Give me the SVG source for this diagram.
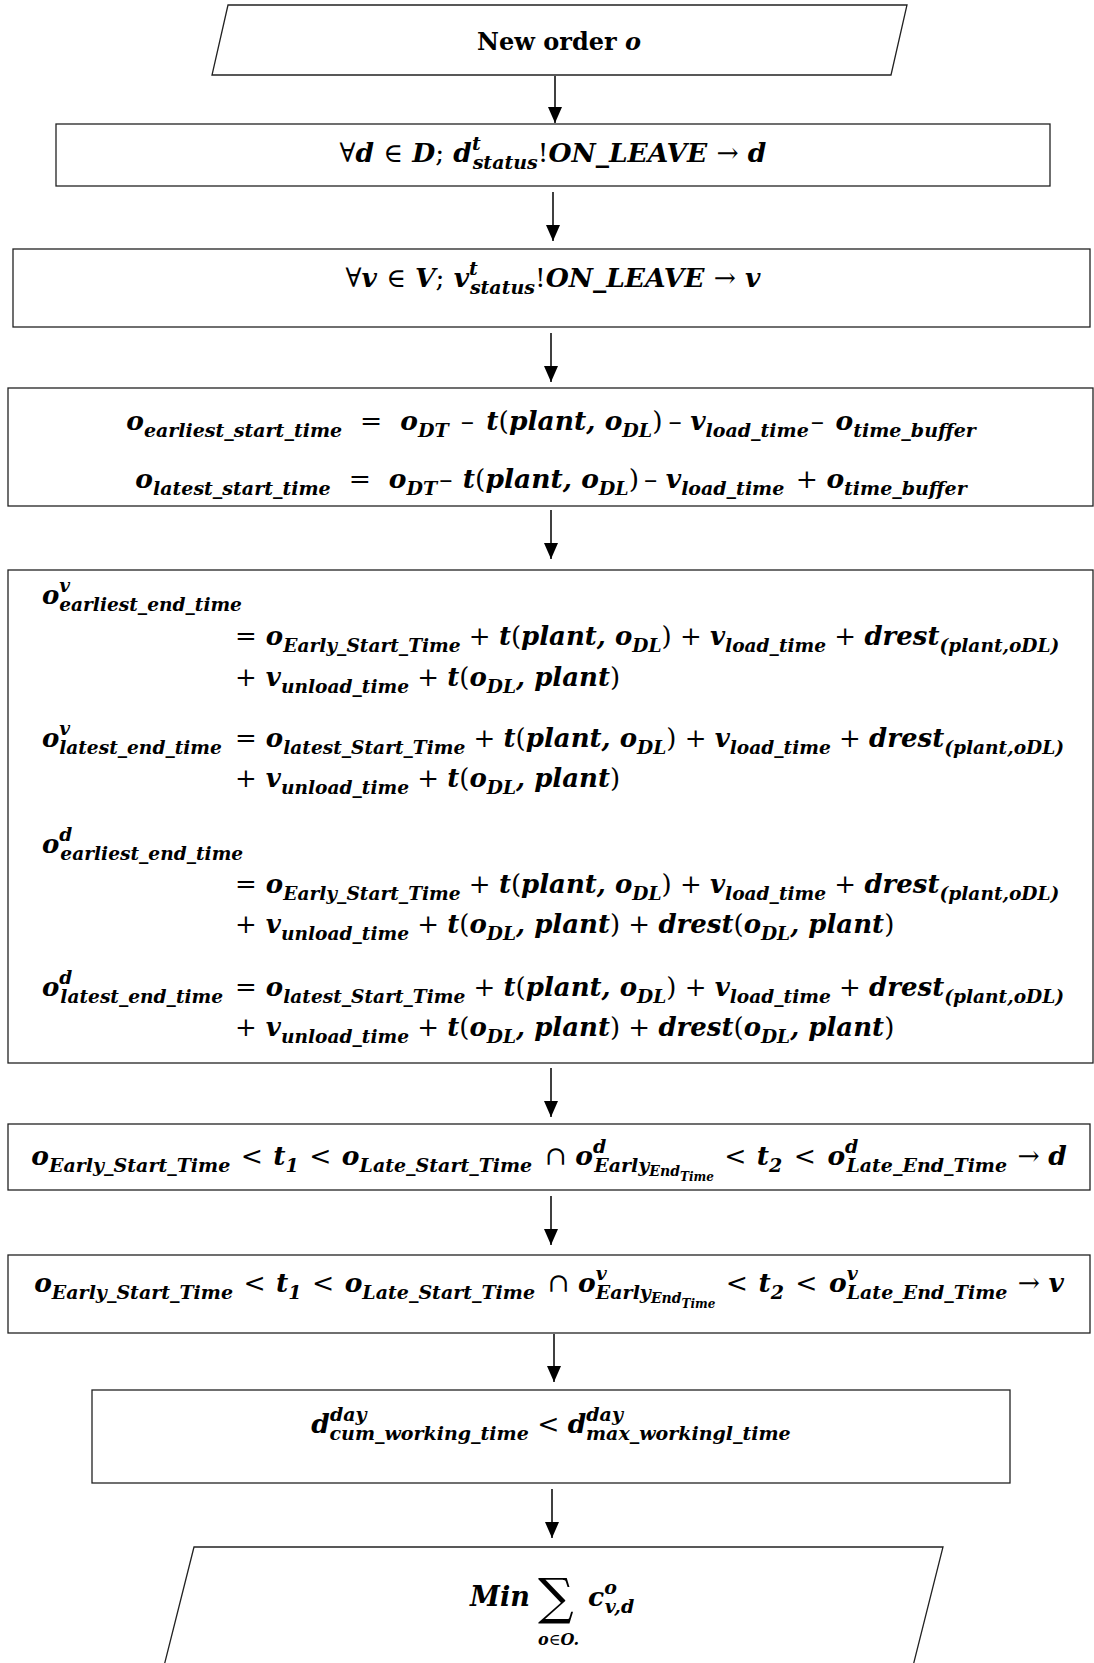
<svg xmlns="http://www.w3.org/2000/svg" width="1094" height="1663" viewBox="0 0 1094 1663">
<defs>
<style>
.box{fill:#fff;stroke:#222;stroke-width:1.3}
.edge{stroke:#000;stroke-width:1.5;fill:none}
.m{font-family:"DejaVu Serif","Liberation Serif",serif;font-weight:bold;font-style:italic;font-size:26.5px;fill:#000}
.t{font-family:"DejaVu Serif","Liberation Serif",serif;font-weight:bold;font-size:24px;fill:#000}
.u{font-style:normal;font-weight:normal}
.s{font-size:19px}
.ss{font-size:14px}
.sss{font-size:12px}
#n5 .m{font-size:26px}
#n5 .s{font-size:18.6px}
.big{font-size:50px}
.min{font-size:27px}
.lim{font-size:16px}
</style>
<marker id="ah" viewBox="0 0 16 14" refX="16" refY="7" markerWidth="16" markerHeight="14" markerUnits="userSpaceOnUse" orient="auto">
<path d="M0,0 L16,7 L0,14 z" fill="#000"/>
</marker>
</defs>
<rect width="1094" height="1663" fill="#fff"/>

<g id="n1">
<polygon class="box" points="228,5 907,5 891,75 212,75"/>
<text class="t" x="559" y="50" text-anchor="middle">New order <tspan font-style="italic">o</tspan></text>
</g>

<g id="n2">
<rect class="box" x="56" y="124" width="994" height="62"/>
<text class="m" x="553" y="162" text-anchor="middle"><tspan class="u">∀</tspan>d <tspan class="u">∈</tspan> D<tspan class="u">;</tspan> d<tspan class="s" dy="-12">t</tspan><tspan class="s" dx="-8" dy="19">status</tspan><tspan class="u" dy="-7">!</tspan>ON_LEAVE <tspan class="u">→</tspan> d</text>
</g>

<g id="n3">
<rect class="box" x="13" y="249" width="1077" height="78"/>
<text class="m" x="553" y="287" text-anchor="middle"><tspan class="u">∀</tspan>v <tspan class="u">∈</tspan> V<tspan class="u">;</tspan> v<tspan class="s" dy="-12">t</tspan><tspan class="s" dx="-8" dy="19">status</tspan><tspan class="u" dy="-7">!</tspan>ON_LEAVE <tspan class="u">→</tspan> v</text>
</g>

<g id="n4">
<rect class="box" x="8" y="388" width="1085" height="118"/>
<text class="m" x="551" y="430" text-anchor="middle">o<tspan class="s" dy="7">earliest_start_time</tspan><tspan class="u" dx="18" dy="-7">=</tspan><tspan dx="18">o</tspan><tspan class="s" dy="7">DT</tspan><tspan class="u" dy="-7" dx="12">– </tspan><tspan dx="4">t</tspan><tspan class="u">(</tspan>plant, o<tspan class="s" dy="7">DL</tspan><tspan class="u" dy="-7">)</tspan><tspan class="u" dx="6">– </tspan>v<tspan class="s" dy="7">load_time</tspan><tspan class="u" dy="-7" dx="2">– </tspan><tspan dx="3">o</tspan><tspan class="s" dy="7">time_buffer</tspan></text>
<text class="m" x="551" y="488" text-anchor="middle">o<tspan class="s" dy="7">latest_start_time</tspan><tspan class="u" dx="18" dy="-7">=</tspan><tspan dx="18">o</tspan><tspan class="s" dy="7">DT</tspan><tspan class="u" dy="-7" dx="2">– </tspan><tspan dx="2">t</tspan><tspan class="u">(</tspan>plant, o<tspan class="s" dy="7">DL</tspan><tspan class="u" dy="-7">)</tspan><tspan class="u" dx="5">– </tspan>v<tspan class="s" dy="7">load_time</tspan><tspan class="u" dy="-7" dx="3"> + </tspan>o<tspan class="s" dy="7">time_buffer</tspan></text>
</g>

<g id="n5">
<rect class="box" x="8" y="570" width="1085" height="493"/>
<text class="m" x="42" y="604">o<tspan class="s" dy="-12">v</tspan><tspan class="s" dx="-11" dy="19">earliest_end_time</tspan></text>
<text class="m" x="235" y="645"><tspan class="u">=</tspan> o<tspan class="s" dy="7">Early_Start_Time</tspan><tspan class="u" dy="-7"> + </tspan>t<tspan class="u">(</tspan>plant, o<tspan class="s" dy="7">DL</tspan><tspan class="u" dy="-7">) + </tspan>v<tspan class="s" dy="7">load_time</tspan><tspan class="u" dy="-7"> + </tspan>drest<tspan class="s" dy="7">(plant,oDL)</tspan></text>
<text class="m" x="235" y="686"><tspan class="u">+</tspan> v<tspan class="s" dy="7">unload_time</tspan><tspan class="u" dy="-7"> + </tspan>t<tspan class="u">(</tspan>o<tspan class="s" dy="7">DL</tspan><tspan dy="-7">, plant</tspan><tspan class="u">)</tspan></text>
<text class="m" x="42" y="747">o<tspan class="s" dy="-12">v</tspan><tspan class="s" dx="-11" dy="19">latest_end_time</tspan></text>
<text class="m" x="235" y="747"><tspan class="u">=</tspan> o<tspan class="s" dy="7">latest_Start_Time</tspan><tspan class="u" dy="-7"> + </tspan>t<tspan class="u">(</tspan>plant, o<tspan class="s" dy="7">DL</tspan><tspan class="u" dy="-7">) + </tspan>v<tspan class="s" dy="7">load_time</tspan><tspan class="u" dy="-7"> + </tspan>drest<tspan class="s" dy="7">(plant,oDL)</tspan></text>
<text class="m" x="235" y="787"><tspan class="u">+</tspan> v<tspan class="s" dy="7">unload_time</tspan><tspan class="u" dy="-7"> + </tspan>t<tspan class="u">(</tspan>o<tspan class="s" dy="7">DL</tspan><tspan dy="-7">, plant</tspan><tspan class="u">)</tspan></text>
<text class="m" x="42" y="853">o<tspan class="s" dy="-12">d</tspan><tspan class="s" dx="-12" dy="19">earliest_end_time</tspan></text>
<text class="m" x="235" y="893"><tspan class="u">=</tspan> o<tspan class="s" dy="7">Early_Start_Time</tspan><tspan class="u" dy="-7"> + </tspan>t<tspan class="u">(</tspan>plant, o<tspan class="s" dy="7">DL</tspan><tspan class="u" dy="-7">) + </tspan>v<tspan class="s" dy="7">load_time</tspan><tspan class="u" dy="-7"> + </tspan>drest<tspan class="s" dy="7">(plant,oDL)</tspan></text>
<text class="m" x="235" y="933"><tspan class="u">+</tspan> v<tspan class="s" dy="7">unload_time</tspan><tspan class="u" dy="-7"> + </tspan>t<tspan class="u">(</tspan>o<tspan class="s" dy="7">DL</tspan><tspan dy="-7">, plant</tspan><tspan class="u">) + </tspan>drest<tspan class="u">(</tspan>o<tspan class="s" dy="7">DL</tspan><tspan dy="-7">, plant</tspan><tspan class="u">)</tspan></text>
<text class="m" x="42" y="996">o<tspan class="s" dy="-12">d</tspan><tspan class="s" dx="-12" dy="19">latest_end_time</tspan></text>
<text class="m" x="235" y="996"><tspan class="u">=</tspan> o<tspan class="s" dy="7">latest_Start_Time</tspan><tspan class="u" dy="-7"> + </tspan>t<tspan class="u">(</tspan>plant, o<tspan class="s" dy="7">DL</tspan><tspan class="u" dy="-7">) + </tspan>v<tspan class="s" dy="7">load_time</tspan><tspan class="u" dy="-7"> + </tspan>drest<tspan class="s" dy="7">(plant,oDL)</tspan></text>
<text class="m" x="235" y="1036"><tspan class="u">+</tspan> v<tspan class="s" dy="7">unload_time</tspan><tspan class="u" dy="-7"> + </tspan>t<tspan class="u">(</tspan>o<tspan class="s" dy="7">DL</tspan><tspan dy="-7">, plant</tspan><tspan class="u">) + </tspan>drest<tspan class="u">(</tspan>o<tspan class="s" dy="7">DL</tspan><tspan dy="-7">, plant</tspan><tspan class="u">)</tspan></text>
</g>

<g id="n6">
<rect class="box" x="8" y="1124" width="1082" height="66"/>
<text class="m" x="549" y="1165" text-anchor="middle">o<tspan class="s" dy="7">Early_Start_Time</tspan><tspan class="u" dy="-7" dx="2"> &lt; </tspan><tspan dx="2">t</tspan><tspan class="s" dy="7">1</tspan><tspan class="u" dy="-7" dx="2"> &lt; </tspan><tspan dx="2">o</tspan><tspan class="s" dy="7">Late_Start_Time</tspan><tspan class="u" dy="-7" dx="4"> ∩ </tspan>o<tspan class="s" dy="-12">d</tspan><tspan class="s" dx="-12" dy="19">Early</tspan><tspan class="ss" dy="4">End</tspan><tspan class="sss" dy="5">Time</tspan><tspan class="u" dy="-16" dx="2"> &lt; </tspan><tspan dx="2">t</tspan><tspan class="s" dy="7">2</tspan><tspan class="u" dy="-7" dx="3"> &lt; </tspan><tspan dx="3">o</tspan><tspan class="s" dy="-12">d</tspan><tspan class="s" dx="-12" dy="19">Late_End_Time</tspan><tspan class="u" dy="-7" dx="2"> → </tspan>d</text>
</g>

<g id="n7">
<rect class="box" x="8" y="1255" width="1082" height="78"/>
<text class="m" x="549" y="1292" text-anchor="middle">o<tspan class="s" dy="7">Early_Start_Time</tspan><tspan class="u" dy="-7" dx="2"> &lt; </tspan><tspan dx="2">t</tspan><tspan class="s" dy="7">1</tspan><tspan class="u" dy="-7" dx="2"> &lt; </tspan><tspan dx="2">o</tspan><tspan class="s" dy="7">Late_Start_Time</tspan><tspan class="u" dy="-7" dx="4"> ∩ </tspan>o<tspan class="s" dy="-12">v</tspan><tspan class="s" dx="-11" dy="19">Early</tspan><tspan class="ss" dy="4">End</tspan><tspan class="sss" dy="5">Time</tspan><tspan class="u" dy="-16" dx="2"> &lt; </tspan><tspan dx="2">t</tspan><tspan class="s" dy="7">2</tspan><tspan class="u" dy="-7" dx="3"> &lt; </tspan><tspan dx="3">o</tspan><tspan class="s" dy="-12">v</tspan><tspan class="s" dx="-11" dy="19">Late_End_Time</tspan><tspan class="u" dy="-7" dx="2"> → </tspan>v</text>
</g>

<g id="n8">
<rect class="box" x="92" y="1390" width="918" height="93"/>
<text class="m" x="551" y="1433" text-anchor="middle">d<tspan class="s" dy="-12">day</tspan><tspan class="s" dx="-37" dy="19">cum_working_time</tspan><tspan class="u" dy="-7"> &lt; </tspan>d<tspan class="s" dy="-12">day</tspan><tspan class="s" dx="-37" dy="19">max_workingl_time</tspan></text>
</g>

<g id="n9">
<polygon class="box" points="194,1547 943,1547 912,1670 163,1670"/>
<text class="m min" x="470" y="1606">Min</text>
<text class="m u big" x="538" y="1614">∑</text>
<text class="m lim" x="538" y="1645">o<tspan class="u">∈</tspan>O.</text>
<text class="m" x="588" y="1606">c<tspan class="s" dy="-12">o</tspan><tspan class="s" dx="-12" dy="19">v,d</tspan></text>
</g>

<g id="edges">
<line class="edge" x1="555" y1="76" x2="555" y2="123" marker-end="url(#ah)"/>
<line class="edge" x1="553" y1="192" x2="553" y2="241" marker-end="url(#ah)"/>
<line class="edge" x1="551" y1="333" x2="551" y2="382" marker-end="url(#ah)"/>
<line class="edge" x1="551" y1="510" x2="551" y2="559" marker-end="url(#ah)"/>
<line class="edge" x1="551" y1="1068" x2="551" y2="1117" marker-end="url(#ah)"/>
<line class="edge" x1="551" y1="1196" x2="551" y2="1245" marker-end="url(#ah)"/>
<line class="edge" x1="554" y1="1334" x2="554" y2="1382" marker-end="url(#ah)"/>
<line class="edge" x1="552" y1="1489" x2="552" y2="1538" marker-end="url(#ah)"/>
</g>
</svg>
